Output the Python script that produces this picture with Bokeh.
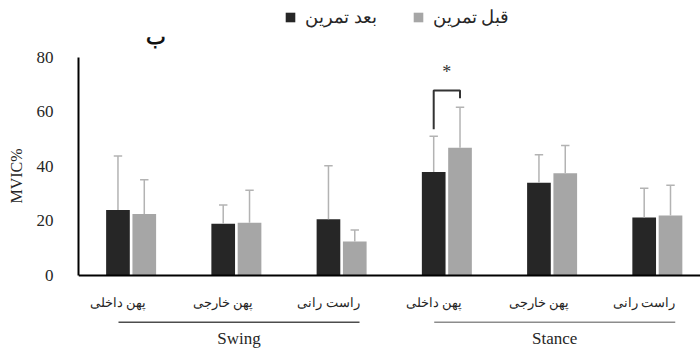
from bokeh.plotting import figure
from bokeh.models import Range1d, FixedTicker, Legend, LegendItem
from bokeh.embed import file_html
from bokeh.resources import INLINE
from bokeh.core.properties import value

# ---- data ----
categories = ["پهن داخلی", "پهن خارجی", "راست رانی", "پهن داخلی", "پهن خارجی", "راست رانی"]
groups = ["Swing", "Stance"]
series_names = ["بعد تمرین", "قبل تمرین"]
after_mean = [24.0, 19.0, 20.6, 38.0, 34.0, 21.3]
after_sd = [19.8, 6.9, 19.7, 13.1, 10.3, 10.7]
before_mean = [22.6, 19.3, 12.5, 46.9, 37.5, 22.0]
before_sd = [12.5, 12.0, 4.2, 14.8, 10.2, 11.1]
y_ticks = [0, 20, 40, 60, 80]
y_title = "MVIC%"
panel_letter = "ب"
sig_mark = "*"
sig_index = 3

SERIF = "Liberation Serif"
DARK = "#262626"
GRAY = "#a6a6a6"
ERR = "#b3b3b3"

n = len(categories)
centers = [i + 0.5 for i in range(n)]
off = 0.125
bw = 0.225
xd = [c - off for c in centers]
xg = [c + off for c in centers]
label_pos = [c - 0.125 for c in centers]

p = figure(width=700, height=351, x_range=Range1d(0, 5.91), y_range=Range1d(-27.9, 100.9),
           output_backend="svg", toolbar_location=None,
           min_border_left=78, min_border_right=0, min_border_top=0, min_border_bottom=0)
p.outline_line_color = None
p.xgrid.visible = False
p.ygrid.visible = False
p.background_fill_color = "white"

r_after = p.vbar(x=xd, top=after_mean, width=bw, bottom=0, fill_color=DARK, line_color=None)
r_before = p.vbar(x=xg, top=before_mean, width=bw, bottom=0, fill_color=GRAY, line_color=None)

# error bars (upper only)
for xs, m, s in ((xd, after_mean, after_sd), (xg, before_mean, before_sd)):
    tops = [a + b for a, b in zip(m, s)]
    p.segment(x0=xs, y0=m, x1=xs, y1=tops, line_color=ERR, line_width=1.5)
    cap = 0.04
    p.segment(x0=[x - cap for x in xs], y0=tops, x1=[x + cap for x in xs], y1=tops,
              line_color=ERR, line_width=1.5)

# significance bracket
i = sig_index
a_top = after_mean[i] + after_sd[i]
b_top = before_mean[i] + before_sd[i]
br_top = b_top + 6.2
p.line(x=[xd[i], xd[i], xg[i], xg[i]], y=[a_top + 2.6, br_top, br_top, b_top + 3.3],
       line_color="#333333", line_width=2)
p.text(x=[(xd[i] + xg[i]) / 2], y=[br_top + 6.6], text=[sig_mark], text_align="center",
       text_baseline="middle", text_font=value(SERIF), text_font_size="18px", text_color="#333333")

# panel letter
p.text(x=[0.74], y=[87.5], text=[panel_letter], text_align="center", text_baseline="middle",
       text_font=value(SERIF), text_font_size="21px", text_font_style="bold", text_color="#111111")

# y axis
ya = p.yaxis[0]
ya.ticker = FixedTicker(ticks=y_ticks)
ya.bounds = (0, 80)
ya.axis_line_width = 2
ya.axis_line_color = "black"
ya.major_tick_line_color = None
ya.minor_tick_line_color = None
ya.major_label_text_font = SERIF
ya.major_label_text_font_size = "17px"
ya.major_label_text_color = DARK
ya.major_label_standoff = 19
ya.axis_label = y_title
ya.axis_label_text_font = SERIF
ya.axis_label_text_font_size = "16px"
ya.axis_label_text_font_style = "normal"
ya.axis_label_text_color = DARK
ya.axis_label_standoff = 9

# x axis at y = 0
xa = p.xaxis[0]
xa.fixed_location = 0
xa.ticker = FixedTicker(ticks=label_pos)
xa.major_label_overrides = {c: lab for c, lab in zip(label_pos, categories)}
xa.axis_line_width = 2
xa.axis_line_color = "black"
xa.major_tick_line_color = None
xa.minor_tick_line_color = None
xa.major_label_text_font = SERIF
xa.major_label_text_font_size = "13px"
xa.major_label_text_color = DARK
xa.major_label_standoff = 14

# group lines and labels
gx0 = [g * 3 + 0.38 for g in range(len(groups))]
gx1 = [g * 3 + 2.67 for g in range(len(groups))]
p.segment(x0=gx0, y0=[-17.2] * 2, x1=gx1, y1=[-17.2] * 2,
          line_color=["#4d4d4d", "#8c8c8c"], line_width=1.5)
p.text(x=[(a + b) / 2 for a, b in zip(gx0, gx1)], y=[-23.0] * 2, text=groups,
       text_align="center", text_baseline="middle", text_font=value(SERIF),
       text_font_size="17px", text_color=DARK)

legend = Legend(items=[LegendItem(label=series_names[0], renderers=[r_after]),
                       LegendItem(label=series_names[1], renderers=[r_before])],
                orientation="horizontal", location=(206, 323),
                glyph_width=12, glyph_height=12, label_standoff=9, spacing=35,
                padding=2, margin=0, background_fill_alpha=0, border_line_color=None,
                label_text_font=SERIF, label_text_font_size="18px", label_text_color=DARK)
p.add_layout(legend, "center")

open("out.html", "w").write(file_html(p, INLINE))
